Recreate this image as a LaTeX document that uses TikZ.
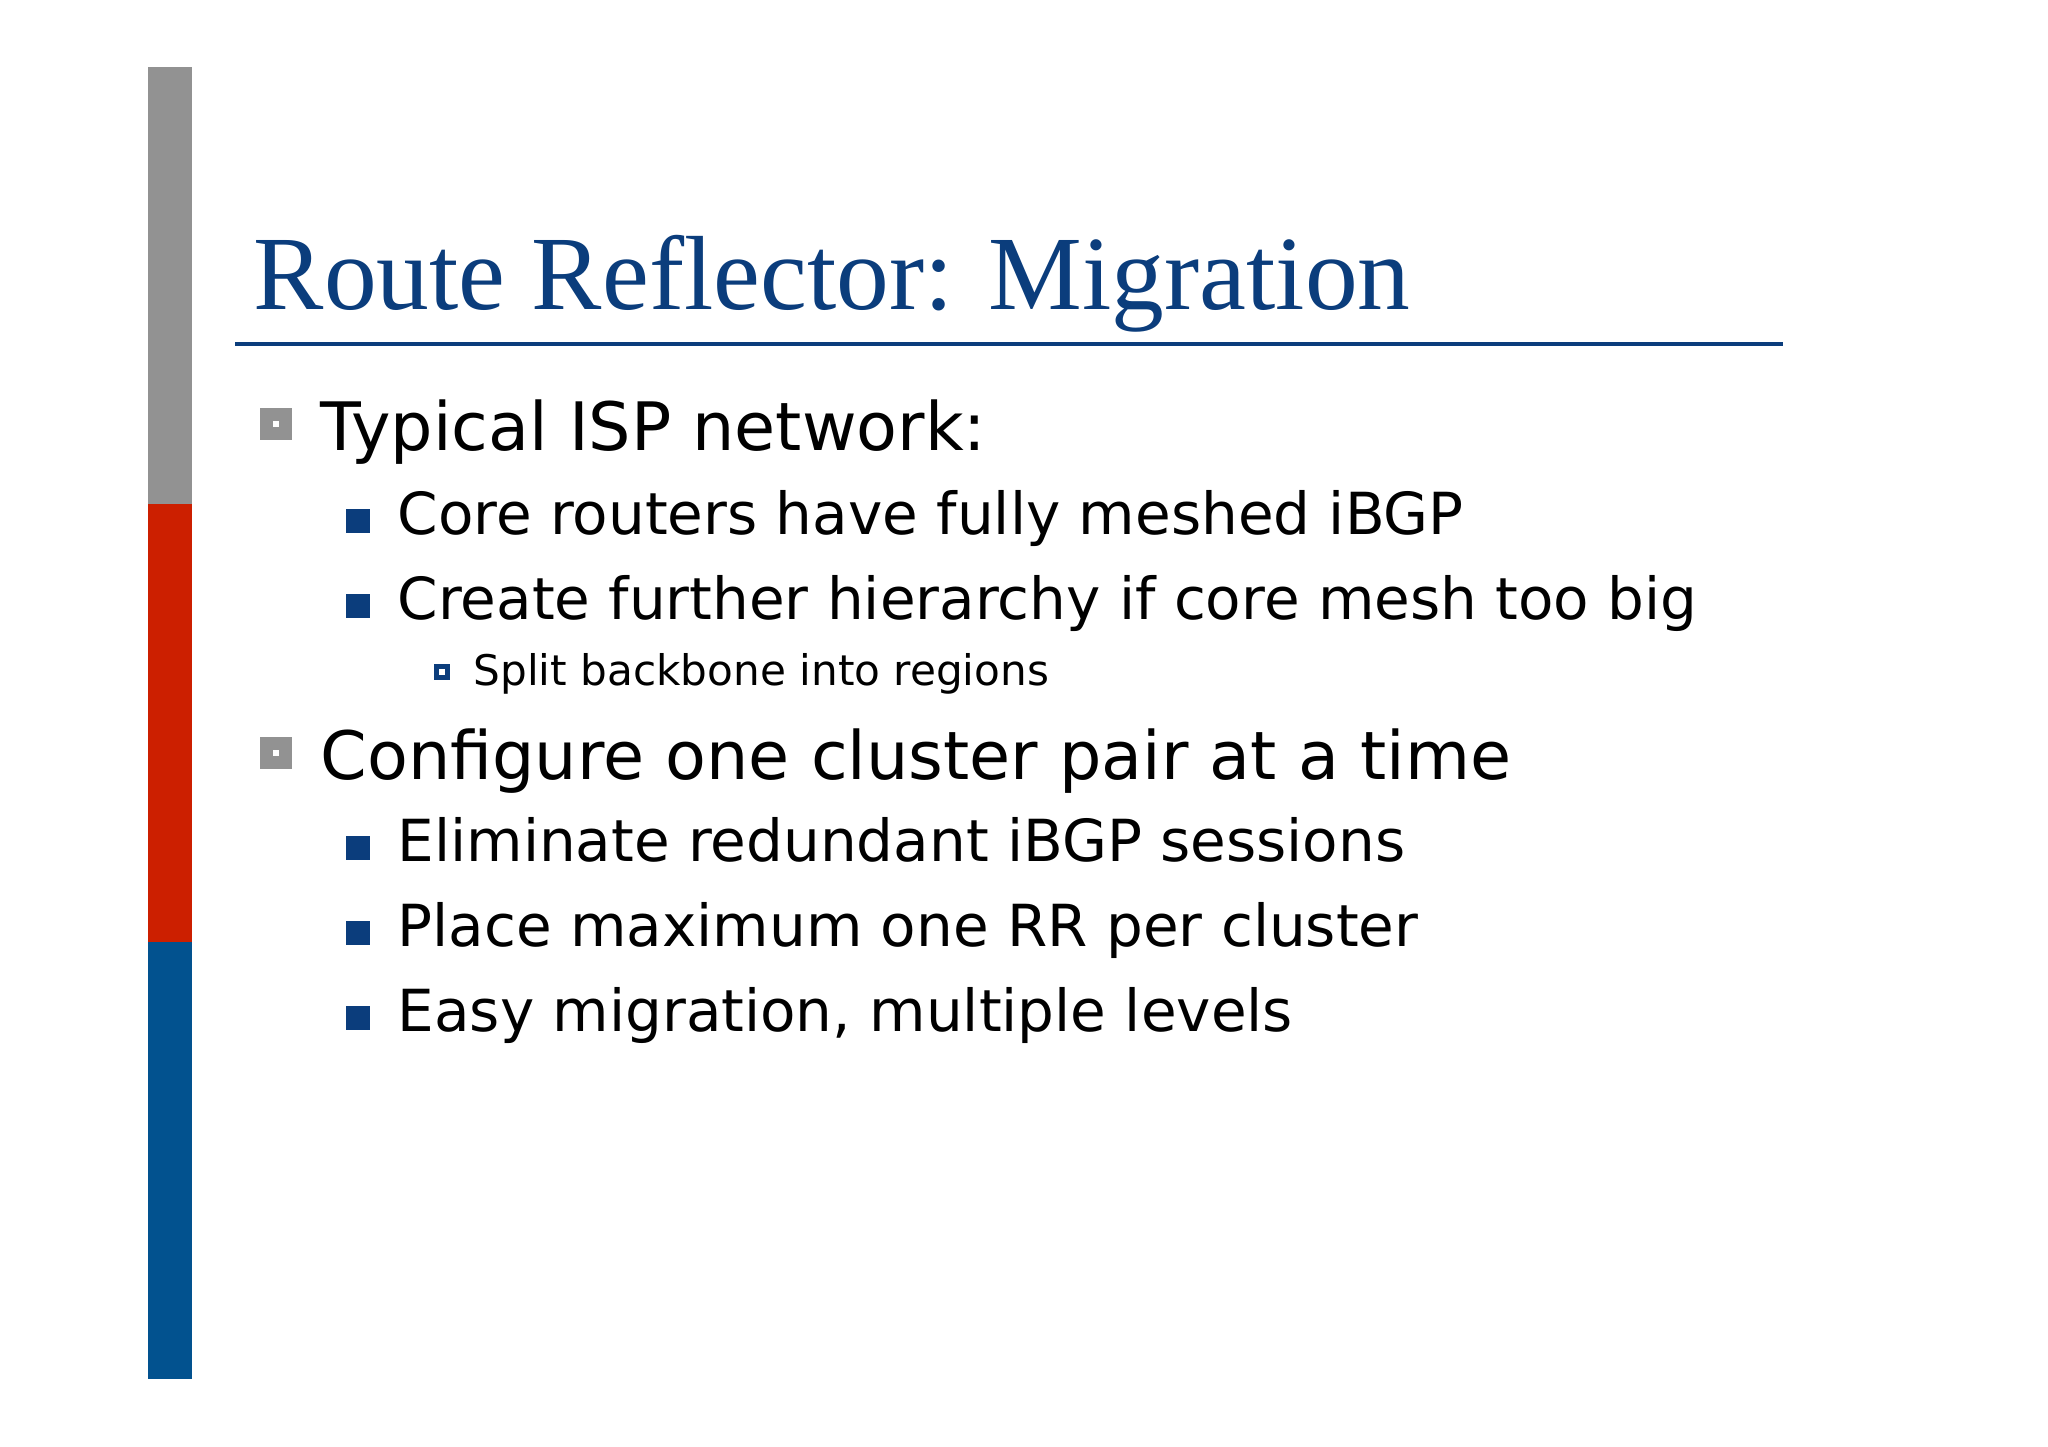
\documentclass[tikz,border=0pt]{standalone}
\usepackage{fontspec}
\setmainfont{DejaVu Sans}
\newfontfamily\titlefont{Liberation Serif}
\definecolor{tblue}{HTML}{0B3D7C}
\definecolor{bblue}{HTML}{02528F}
\definecolor{bred}{HTML}{CC1F00}
\definecolor{bgray}{HTML}{929292}
\begin{document}
\begin{tikzpicture}[x=1cm,y=-1cm,
  lone/.style={anchor=base west,inner sep=0,font=\fontsize{19}{22}\selectfont},
  ltwo/.style={anchor=base west,inner sep=0,font=\fontsize{16.5}{20}\selectfont},
  lthree/.style={anchor=base west,inner sep=0,font=\fontsize{12}{15}\selectfont},
  bone/.style={draw=bgray,line width=1.3mm,fill=white},
  btwo/.style={fill=tblue},
  bthree/.style={draw=tblue,line width=0.5mm,fill=white}]
\useasboundingbox (0,0) rectangle (20.48,14.47);
\fill[bgray] (1.48,0.67) rectangle (1.92,5.04);
\fill[bred] (1.48,5.04) rectangle (1.92,9.42);
\fill[bblue] (1.48,9.42) rectangle (1.92,13.79);
\node[anchor=base west,inner sep=0,text=tblue,font=\titlefont\fontsize{30}{34}\selectfont] (title) at (2.53,3.10) {Route Reflector: Migration};
\draw[tblue,line width=0.35mm] (2.35,3.44) -- (17.83,3.44);
% level 1
\draw[bone] (2.66,4.15) rectangle (2.85,4.34);
\node[lone] (a) at (3.20,4.51) {Typical ISP network:};
\fill[btwo] (3.46,5.09) rectangle (3.70,5.33);
\node[ltwo] (b) at (3.97,5.35) {Core routers have fully meshed iBGP};
\fill[btwo] (3.46,5.94) rectangle (3.70,6.18);
\node[ltwo] (c) at (3.97,6.20) {Create further hierarchy if core mesh too big};
\draw[bthree] (4.36,6.67) rectangle (4.47,6.78);
\node[lthree] (d) at (4.73,6.86) {Split backbone into regions};
\draw[bone] (2.66,7.44) rectangle (2.85,7.63);
\node[lone] (e) at (3.20,7.80) {Configure one cluster pair at a time};
\fill[btwo] (3.46,8.36) rectangle (3.70,8.60);
\node[ltwo] (f) at (3.97,8.62) {Eliminate redundant iBGP sessions};
\fill[btwo] (3.46,9.21) rectangle (3.70,9.45);
\node[ltwo] (g) at (3.97,9.47) {Place maximum one RR per cluster};
\fill[btwo] (3.46,10.06) rectangle (3.70,10.30);
\node[ltwo] (h) at (3.97,10.32) {Easy migration, multiple levels};
\end{tikzpicture}
\end{document}
